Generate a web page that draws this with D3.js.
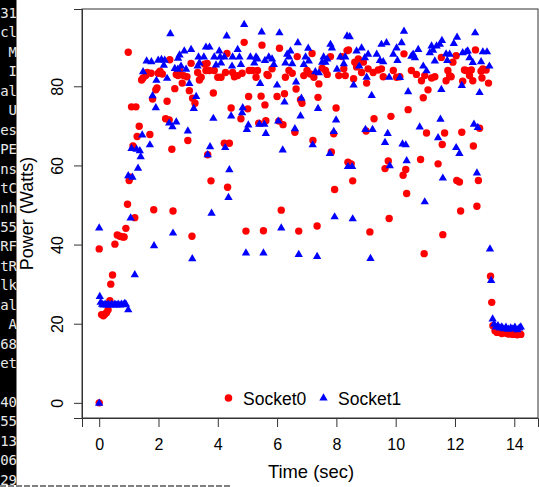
<!DOCTYPE html>
<html>
<head>
<meta charset="utf-8">
<script src="https://cdn.jsdelivr.net/npm/d3@7"></script>
<style>
  body { margin: 0; background: #fff; }
  svg { display: block; }
</style>
</head>
<body>
<script>
var width = 539,
	height = 487;

// Socket0 samples: [time (sec), power (W)]
var socket0 = [
	[0,0],[0,38.9],[0.08,22.3],[0.14,22.0],[0.19,22.4],[0.25,22.8],[0.30,23.5],[0.36,25.8],[0.39,30.0],[0.45,32.3],
	[0.53,40.1],[0.61,42.4],[0.70,42.1],[0.79,41.9],[0.84,41.9],[0.90,44.1],[0.955,50.2],[0.98,88.6],[1.01,56.2],[1.06,57.0],
	[1.09,74.8],[1.14,64.9],[1.20,46.8],[1.24,74.8],[1.28,67.3],[1.35,69.9],[1.43,81.6],[1.48,82.1],[1.57,82.7],[1.62,83.5],
	[1.71,67.8],[1.75,83.3],[1.80,76.8],[1.84,48.8],[1.91,79.1],[1.95,79.6],[1.99,83.3],[2.05,83.8],[2.13,83.1],[2.24,71.8],
	[2.29,76.2],[2.36,71.5],[2.38,86.7],[2.45,64.1],[2.49,48.5],[2.55,79.4],[2.60,83.0],[2.66,82.7],[2.71,84.0],[2.80,80.8],
	[2.85,82.7],[2.96,82.4],[2.99,66.3],[3.04,78.9],[3.10,85.8],[3.13,42.1],[3.15,77.0],[3.23,75.7],[3.32,83.5],[3.38,81.6],
	[3.44,82.3],[3.55,85.6],[3.60,84.0],[3.64,85.8],[3.66,62.7],[3.72,84.0],[3.77,56.1],[3.85,78.3],[3.88,84.0],[4.00,82.3],
	[4.11,82.3],[4.22,65.6],[4.26,83.5],[4.31,88.3],[4.33,54.5],[4.39,65.6],[4.45,74.5],[4.50,83.5],[4.56,82.4],[4.67,82.7],
	[4.78,71.8],[4.82,83.3],[4.89,91.1],[4.95,43.4],[5.01,74.3],[5.04,77.4],[5.06,84.0],[5.17,84.0],[5.29,82.3],[5.34,84.0],
	[5.38,70.7],[5.46,77.5],[5.49,90.4],[5.54,43.5],[5.59,75.3],[5.62,71.3],[5.66,83.0],[5.70,82.7],[5.83,84.4],[6.00,77.4],
	[6.06,71.2],[6.08,89.6],[6.14,48.7],[6.20,70.3],[6.25,78.1],[6.28,82.3],[6.40,84.0],[6.51,83.3],[6.60,68.4],[6.64,79.3],
	[6.68,87.5],[6.73,43.4],[6.79,76.6],[6.84,75.7],[6.90,82.7],[7.01,84.0],[7.12,83.1],[7.18,88.3],[7.21,66.3],[7.24,82.3],
	[7.35,44.7],[7.38,77.2],[7.41,80.6],[7.52,84.6],[7.63,84.0],[7.69,83.0],[7.80,87.5],[7.83,63.4],[7.91,68.0],[7.94,53.9],
	[7.99,74.5],[8.08,82.7],[8.19,87.5],[8.25,84.4],[8.30,82.7],[8.36,89.0],[8.39,60.8],[8.41,89.2],[8.50,60.4],[8.55,56.1],
	[8.58,81.9],[8.62,86.1],[8.68,84.9],[8.74,86.9],[8.85,83.5],[8.91,86.1],[9.00,68.7],[9.02,80.8],[9.07,84.4],[9.13,43.2],
	[9.24,83.5],[9.27,71.8],[9.41,84.1],[9.52,84.4],[9.58,82.4],[9.64,59.2],[9.75,61.1],[9.78,46.6],[9.84,72.4],[9.92,84.0],
	[10.03,82.3],[10.14,82.4],[10.25,57.5],[10.28,88.2],[10.34,59.0],[10.37,52.9],[10.42,74.1],[10.53,84.0],[10.70,83.0],[10.84,61.5],
	[10.87,81.4],[10.93,77.1],[10.96,37.7],[10.98,82.7],[11.04,68.2],[11.09,79.1],[11.21,82.1],[11.32,82.4],[11.43,60.4],[11.54,87.3],
	[11.57,65.3],[11.59,42.5],[11.65,68.2],[11.70,81.4],[11.76,84.0],[11.82,82.7],[11.87,82.4],[11.93,86.1],[12.04,87.7],[12.06,56.2],
	[12.15,55.8],[12.19,48.5],[12.23,68.4],[12.26,81.3],[12.32,84.1],[12.38,84.0],[12.49,82.7],[12.55,84.1],[12.60,81.4],[12.62,64.9],
	[12.69,89.2],[12.74,49.7],[12.79,56.2],[12.83,69.4],[12.88,83.8],[12.91,82.1],[12.94,84.4],[13.05,84.1],[13.13,80.8],[13.20,32.0],
	[13.24,25.4],[13.28,19.5],[13.35,18.2],[13.42,17.8],[13.50,17.9],[13.58,17.5],[13.65,18.0],[13.73,17.6],[13.80,17.4],[13.88,17.5],
	[13.95,17.3],[14.03,17.4],[14.10,17.2],[14.17,17.5],[14.22,17.3]
];

// Socket1 samples: [time (sec), power (W)]
var socket1 = [
	[0,0],[0,44.3],[0.02,27.0],[0.05,25.5],[0.10,25.0],[0.14,24.8],[0.20,25.0],[0.25,24.8],[0.30,25.0],[0.36,24.8],
	[0.42,25.0],[0.47,24.8],[0.53,25.0],[0.58,24.8],[0.64,25.0],[0.70,24.8],[0.75,25.0],[0.81,24.9],[0.86,25.2],[0.90,25.0],
	[0.98,23.6],[0.98,57.5],[1.06,46.8],[1.09,64.4],[1.12,57.1],[1.20,32.5],[1.26,64.2],[1.31,59.4],[1.37,63.8],[1.40,62.3],
	[1.45,67.8],[1.48,83.8],[1.60,86.5],[1.71,65.3],[1.76,86.3],[1.80,77.7],[1.85,39.8],[1.91,74.7],[1.93,81.6],[1.99,86.7],
	[2.10,86.9],[2.18,85.4],[2.21,86.7],[2.29,82.1],[2.36,70.8],[2.40,93.4],[2.47,69.9],[2.49,43.0],[2.55,84.6],[2.60,71.1],
	[2.65,84.4],[2.66,87.2],[2.71,88.0],[2.76,85.2],[2.87,89.0],[2.93,84.4],[2.99,68.8],[3.04,80.8],[3.10,89.4],[3.14,36.5],
	[3.19,74.5],[3.27,77.5],[3.32,85.2],[3.35,87.5],[3.38,86.0],[3.53,87.5],[3.60,90.0],[3.66,62.8],[3.72,90.0],[3.74,64.8],
	[3.79,48.0],[3.85,72.0],[3.88,87.5],[3.94,85.5],[4.05,89.0],[4.08,87.5],[4.11,86.0],[4.22,87.5],[4.25,64.6],[4.30,92.8],
	[4.36,52.0],[4.39,59.0],[4.45,72.6],[4.48,85.2],[4.50,87.5],[4.67,89.4],[4.73,87.5],[4.78,85.6],[4.82,73.4],[4.84,74.7],
	[4.89,95.7],[4.95,38.0],[4.98,69.2],[5.03,70.3],[5.10,87.5],[5.23,86.0],[5.29,87.5],[5.34,87.0],[5.40,70.5],[5.43,80.8],
	[5.48,93.8],[5.54,38.0],[5.57,70.5],[5.59,86.6],[5.62,68.2],[5.72,87.5],[5.83,87.0],[5.89,85.6],[6.00,80.4],[6.04,71.3],
	[6.08,93.6],[6.14,44.3],[6.19,64.0],[6.25,76.1],[6.28,86.0],[6.34,88.2],[6.40,87.5],[6.45,89.0],[6.51,85.8],[6.60,69.4],
	[6.64,81.2],[6.70,91.1],[6.73,37.6],[6.79,72.6],[6.82,77.1],[6.90,85.6],[6.96,87.5],[7.05,89.7],[7.07,86.5],[7.20,65.3],
	[7.29,83.8],[7.35,37.1],[7.38,74.5],[7.41,83.5],[7.52,86.2],[7.57,87.5],[7.63,86.2],[7.69,87.0],[7.78,63.1],[7.80,90.7],
	[7.85,89.8],[7.91,68.7],[7.94,47.1],[7.99,71.6],[8.02,84.4],[8.13,87.5],[8.25,85.8],[8.30,87.5],[8.36,92.8],[8.39,59.8],
	[8.45,92.6],[8.53,59.8],[8.55,46.6],[8.58,80.4],[8.68,89.0],[8.77,85.2],[8.85,89.8],[8.96,87.3],[8.98,69.2],[9.02,82.4],
	[9.07,88.2],[9.15,36.6],[9.19,77.8],[9.22,69.2],[9.36,88.2],[9.47,86.6],[9.52,90.7],[9.58,86.3],[9.64,65.9],[9.69,91.1],
	[9.73,68.2],[9.78,82.4],[9.80,60.0],[9.92,88.2],[10.03,89.8],[10.06,86.6],[10.14,82.3],[10.20,91.1],[10.23,65.5],[10.28,94.0],
	[10.34,65.3],[10.37,61.3],[10.42,78.7],[10.53,87.7],[10.59,88.2],[10.65,87.3],[10.76,89.4],[10.81,69.8],[10.93,85.2],[10.98,50.9],
	[11.04,84.0],[11.15,88.6],[11.21,90.3],[11.26,89.2],[11.32,86.5],[11.38,90.3],[11.43,67.1],[11.49,90.7],[11.51,71.8],[11.54,79.3],
	[11.56,91.7],[11.59,56.9],[11.70,88.3],[11.74,86.6],[11.82,88.2],[11.96,90.9],[12.04,64.6],[12.07,92.5],[12.15,63.1],[12.23,80.3],
	[12.26,88.6],[12.38,88.8],[12.43,89.0],[12.49,87.3],[12.60,86.1],[12.64,70.5],[12.68,93.6],[12.74,58.2],[12.77,69.7],[12.83,78.5],
	[12.88,86.3],[12.94,88.8],[13.08,88.8],[13.16,85.2],[13.18,39.0],[13.22,31.0],[13.27,21.3],[13.32,20.0],[13.38,19.3],[13.45,19.6],
	[13.52,19.0],[13.58,19.3],[13.65,18.8],[13.72,19.2],[13.80,18.7],[13.88,19.0],[13.95,18.8],[14.02,19.2],[14.10,18.6],[14.17,19.0],
	[14.22,19.3]
];

var xTicks = [0, 2, 4, 6, 8, 10, 12, 14];
var yTicks = [0, 20, 40, 60, 80];
var seriesNames = ["Socket0", "Socket1"];
var seriesColors = ["#ff0000", "#0000ff"];

// terminal window peeking in on the left edge
var termLines = ["31","cl"," M"," I","al"," U","es","PE","ns","tC","nh","55","RF",
	"tR","lk","al"," A","68","et","","40","55","13","06","29"];

var box = {left: 82, right: 538, top: 9, bottom: 418};

var svg = d3.select("body").append("svg")
	.attr("width", width)
	.attr("height", height);

// R-style axis ranges (data range padded by 4%)
var x = d3.scaleLinear()
	.domain([-0.58, 14.8])
	.range([box.left, box.right]);

var y = d3.scaleLinear()
	.domain([-3.83, 99.53])
	.range([box.bottom, box.top]);

// terminal strip
svg.append("rect")
	.attr("x", 0).attr("y", 0)
	.attr("width", 16.5).attr("height", 485)
	.attr("fill", "#000");

svg.append("g")
	.selectAll("text")
	.data(termLines)
	.enter().append("text")
	.attr("x", 17)
	.attr("y", function(d, i) { return 18 + i * 19.45; })
	.attr("text-anchor", "end")
	.style("font-family", "'DejaVu Sans Mono', monospace")
	.style("font-size", "14px")
	.style("fill", "#e8e8e8")
	.style("white-space", "pre")
	.text(function(d) { return d; });

// edge of the next window below
svg.append("line")
	.attr("x1", 0).attr("x2", 230)
	.attr("y1", 486).attr("y2", 486)
	.attr("stroke", "#555")
	.attr("stroke-width", 1.5)
	.attr("stroke-dasharray", "6,2");

// plot box
svg.append("rect")
	.attr("x", box.left)
	.attr("y", box.top)
	.attr("width", box.right - box.left)
	.attr("height", box.bottom - box.top)
	.attr("fill", "none")
	.attr("stroke", "#333")
	.attr("stroke-width", 1);

var font = "'Liberation Sans', Arial, Helvetica, sans-serif";

// x axis
var xAxis = svg.append("g")
	.attr("transform", "translate(0," + box.bottom + ")")
	.call(d3.axisBottom(x).tickValues(xTicks).tickSize(9).tickPadding(12));
xAxis.select(".domain").attr("stroke", "#333");
xAxis.selectAll(".tick line").attr("stroke", "#333");
xAxis.selectAll("text")
	.style("font-family", font)
	.style("font-size", "16px")
	.style("fill", "#000");

// y axis, labels rotated like R
var yAxis = svg.append("g")
	.attr("transform", "translate(" + box.left + ",0)")
	.call(d3.axisLeft(y).tickValues(yTicks).tickSize(8));
yAxis.select(".domain").attr("stroke", "#333");
yAxis.selectAll(".tick line").attr("stroke", "#333");
yAxis.selectAll("text")
	.attr("x", null).attr("dy", null)
	.attr("text-anchor", "middle")
	.attr("transform", "translate(-19,0) rotate(-90)")
	.style("font-family", font)
	.style("font-size", "16px")
	.style("fill", "#000");

// axis titles
svg.append("text")
	.attr("x", (box.left + box.right) / 2 + 1)
	.attr("y", 478)
	.attr("text-anchor", "middle")
	.style("font-family", font)
	.style("font-size", "18.4px")
	.text("Time (sec)");

svg.append("text")
	.attr("transform", "translate(33," + ((box.top + box.bottom) / 2) + ") rotate(-90)")
	.attr("text-anchor", "middle")
	.style("font-family", font)
	.style("font-size", "18px")
	.text("Power (Watts)");

// Socket0 points
svg.append("g")
	.selectAll("circle")
	.data(socket0)
	.enter().append("circle")
	.attr("cx", function(d) { return x(d[0]); })
	.attr("cy", function(d) { return y(d[1]); })
	.attr("r", 3.7)
	.attr("fill", seriesColors[0]);

// Socket1 points drawn on top
var tri = d3.symbol().type(d3.symbolTriangle).size(30);
svg.append("g")
	.selectAll("path")
	.data(socket1)
	.enter().append("path")
	.attr("d", tri)
	.attr("transform", function(d) { return "translate(" + x(d[0]) + "," + (y(d[1]) + 0.5) + ")"; })
	.attr("fill", seriesColors[1]);

// legend
var legend = svg.append("g");
legend.append("circle")
	.attr("cx", 228.5).attr("cy", 398)
	.attr("r", 3.8)
	.attr("fill", seriesColors[0]);
legend.append("path")
	.attr("d", tri)
	.attr("transform", "translate(323.5,398)")
	.attr("fill", seriesColors[1]);
legend.selectAll("text")
	.data(seriesNames)
	.enter().append("text")
	.attr("x", function(d, i) { return i == 0 ? 243 : 338; })
	.attr("y", 404.5)
	.style("font-family", font)
	.style("font-size", "17.5px")
	.text(function(d) { return d; });
</script>
</body>
</html>
